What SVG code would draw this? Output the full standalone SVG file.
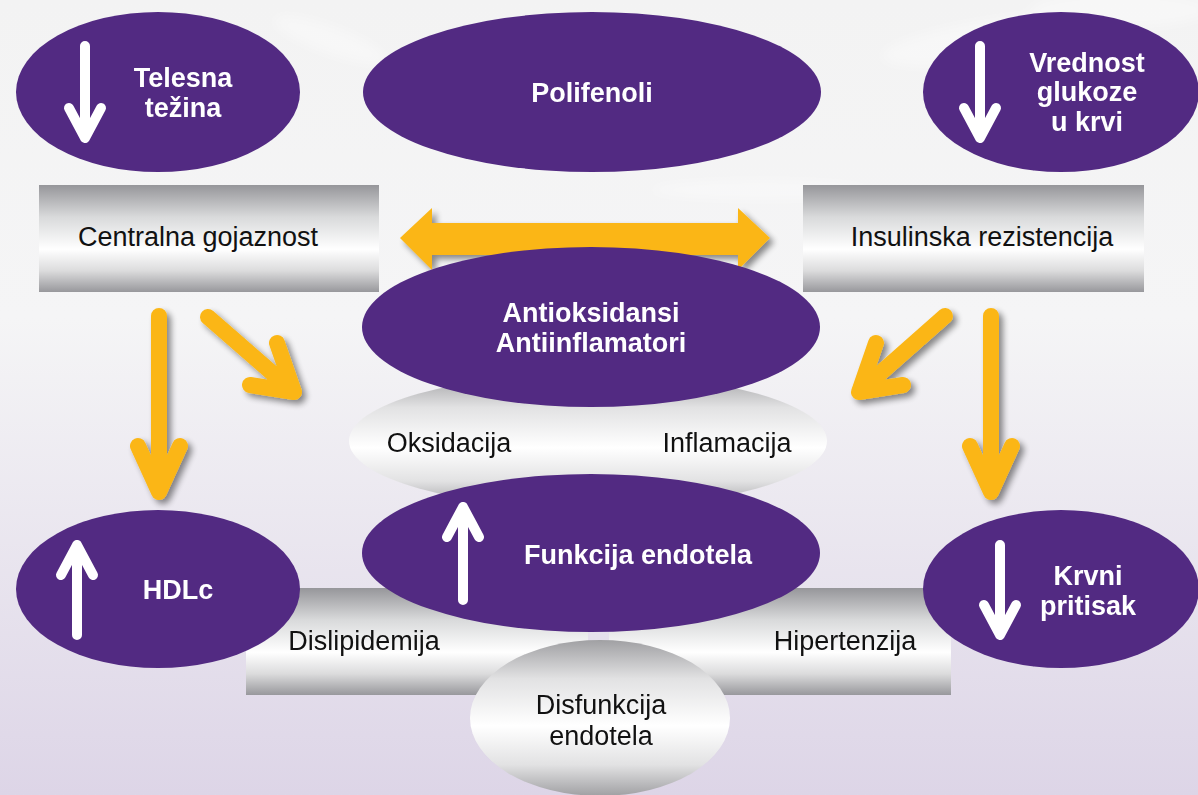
<svg xmlns="http://www.w3.org/2000/svg" width="1198" height="795" viewBox="0 0 1198 795">
<defs>
<linearGradient id="bg" x1="0" y1="0" x2="0" y2="1">
<stop offset="0" stop-color="#f3f3f3"/>
<stop offset="0.4" stop-color="#f5f5f6"/>
<stop offset="1" stop-color="#ddd5e7"/>
</linearGradient>
<linearGradient id="metal" x1="0" y1="0" x2="0" y2="1">
<stop offset="0" stop-color="#96969a"/>
<stop offset="0.3" stop-color="#d9dadb"/>
<stop offset="0.6" stop-color="#ffffff"/>
<stop offset="0.8" stop-color="#dcdcdd"/>
<stop offset="1" stop-color="#98989c"/>
</linearGradient>
<linearGradient id="metalE" x1="0" y1="0" x2="0" y2="1">
<stop offset="0" stop-color="#a0a0a3"/>
<stop offset="0.25" stop-color="#e2e2e3"/>
<stop offset="0.55" stop-color="#ffffff"/>
<stop offset="0.8" stop-color="#e2e2e3"/>
<stop offset="1" stop-color="#a0a0a3"/>
</linearGradient>
<filter id="sh" x="-20%" y="-20%" width="140%" height="140%">
<feGaussianBlur in="SourceAlpha" stdDeviation="3"/>
<feOffset dx="4" dy="4" result="b"/>
<feComponentTransfer><feFuncA type="linear" slope="0.45"/></feComponentTransfer>
<feMerge><feMergeNode/><feMergeNode in="SourceGraphic"/></feMerge>
</filter>
<filter id="soft"><feGaussianBlur stdDeviation="6"/></filter>
</defs>
<style>
.purple{fill:#522a82}
.metal{fill:url(#metal)}
.metalE{fill:url(#metalE)}
.bt{font-family:"Liberation Sans",Arial,sans-serif;font-weight:bold;font-size:27px;fill:#ffffff;text-anchor:middle}
.rt{font-family:"Liberation Sans",Arial,sans-serif;font-size:27px;fill:#111111;text-anchor:middle}
.wa{fill:none;stroke:#ffffff;stroke-width:10;stroke-linecap:round;stroke-linejoin:round}
.ya{fill:none;stroke:#fbb614;stroke-width:16;stroke-linecap:round;stroke-linejoin:round}
</style>
<rect x="0" y="0" width="1198" height="795" fill="url(#bg)"/>
<g opacity="0.35" filter="url(#soft)" fill="#ffffff">
<ellipse cx="1000" cy="40" rx="120" ry="22" transform="rotate(-8 1000 40)"/>
<ellipse cx="1120" cy="10" rx="90" ry="18"/>
<ellipse cx="330" cy="40" rx="60" ry="14" transform="rotate(20 330 40)"/>
<ellipse cx="760" cy="190" rx="110" ry="10"/>
</g>

<g id="centralna-gojaznost">
<rect class="metal" x="39" y="185" width="340" height="107"/>
<text class="rt" x="198" y="246">Centralna gojaznost</text>
</g>
<g id="insulinska-rezistencija">
<rect class="metal" x="803" y="185" width="341" height="107"/>
<text class="rt" x="982" y="246">Insulinska rezistencija</text>
</g>

<g id="connectors" filter="url(#sh)">
<path fill="#fbb614" d="M400,238 L432,208 L432,223 L738,223 L738,208 L770,238 L738,270 L738,255 L432,255 L432,270 Z"/>
<path class="ya" d="M159,316 L159,492 M138,446 L159,492 L180,446"/>
<path class="ya" d="M208,317 L294,392 M277,343 L294,392 L250,385"/>
<path class="ya" d="M945,316 L859,392 M876,343 L859,392 L903,385"/>
<path class="ya" d="M991,316 L991,492 M970,446 L991,492 L1012,446"/>
</g>

<g id="oksidacija-inflamacija">
<ellipse class="metalE" cx="588" cy="441" rx="239" ry="67"/>
<text class="rt" x="449" y="452">Oksidacija</text>
<text class="rt" x="727" y="452">Inflamacija</text>
</g>

<g id="dislipidemija">
<rect class="metal" x="246" y="588" width="342" height="107"/>
<text class="rt" x="364" y="650">Dislipidemija</text>
</g>
<g id="hipertenzija">
<rect class="metal" x="609" y="588" width="342" height="107"/>
<text class="rt" x="845" y="650">Hipertenzija</text>
</g>

<g id="polifenoli">
<ellipse class="purple" cx="592" cy="92" rx="229" ry="80"/>
<text class="bt" x="592" y="102">Polifenoli</text>
</g>
<g id="telesna-tezina">
<ellipse class="purple" cx="158" cy="92" rx="142" ry="80"/>
<path class="wa" d="M85,46 L85,138 M69,108 L85,138 L101,108"/>
<text class="bt" x="183" y="87">Telesna</text>
<text class="bt" x="183" y="117">težina</text>
</g>
<g id="vrednost-glukoze">
<ellipse class="purple" cx="1061" cy="92" rx="138" ry="80"/>
<path class="wa" d="M980,46 L980,138 M964,108 L980,138 L996,108"/>
<text class="bt" x="1087" y="72">Vrednost</text>
<text class="bt" x="1087" y="101">glukoze</text>
<text class="bt" x="1087" y="131">u krvi</text>
</g>
<g id="antioksidansi">
<ellipse class="purple" cx="591" cy="327" rx="229" ry="80"/>
<text class="bt" x="591" y="322">Antioksidansi</text>
<text class="bt" x="591" y="352">Antiinflamatori</text>
</g>
<g id="funkcija-endotela">
<ellipse class="purple" cx="591" cy="553" rx="229" ry="79"/>
<path class="wa" d="M463,600 L463,507 M447,537 L463,507 L479,537"/>
<text class="bt" x="638" y="564">Funkcija endotela</text>
</g>
<g id="hdlc">
<ellipse class="purple" cx="158" cy="589" rx="142" ry="79"/>
<path class="wa" d="M77,635 L77,545 M61,575 L77,545 L93,575"/>
<text class="bt" x="178" y="599">HDLc</text>
</g>
<g id="krvni-pritisak">
<ellipse class="purple" cx="1061" cy="589" rx="138" ry="79"/>
<path class="wa" d="M1000,545 L1000,635 M984,605 L1000,635 L1016,605"/>
<text class="bt" x="1088" y="585">Krvni</text>
<text class="bt" x="1088" y="615">pritisak</text>
</g>
<g id="disfunkcija-endotela">
<ellipse class="metalE" cx="600" cy="718" rx="130" ry="78"/>
<text class="rt" x="601" y="714">Disfunkcija</text>
<text class="rt" x="601" y="745">endotela</text>
</g>
</svg>
